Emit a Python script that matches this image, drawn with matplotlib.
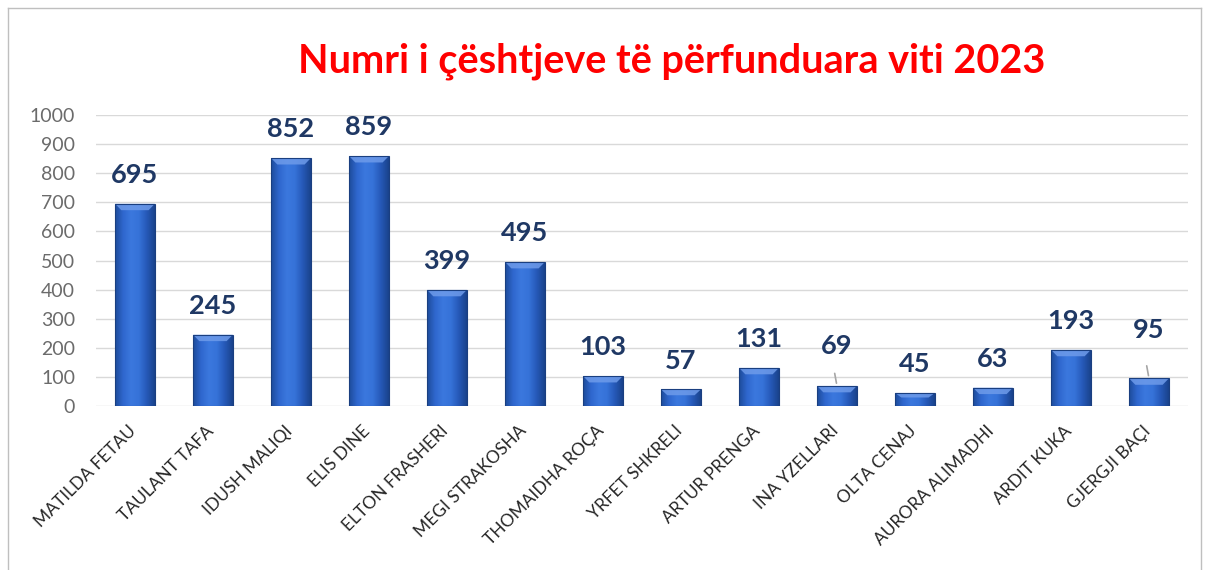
import matplotlib
matplotlib.use("Agg")
import matplotlib.pyplot as plt
import matplotlib.transforms as mtrans
import numpy as np
from matplotlib.colors import LinearSegmentedColormap
from matplotlib.patches import Polygon
from matplotlib.lines import Line2D

# -- Data -------------------------------------------------------------------
names = ["MATILDA FETAU", "TAULANT TAFA", "IDUSH MALIQI", "ELIS DINE",
         "ELTON FRASHERI", "MEGI STRAKOSHA", "THOMAIDHA ROÇA", "YRFET SHKRELI",
         "ARTUR PRENGA", "INA YZELLARI", "OLTA CENAJ", "AURORA ALIMADHI",
         "ARDIT KUKA", "GJERGJI BAÇI"]
cases = [695, 245, 852, 859, 399, 495, 103, 57, 131, 69, 45, 63, 193, 95]
yticks = [0, 100, 200, 300, 400, 500, 600, 700, 800, 900, 1000]
title = "Numri i çështjeve të përfunduara viti 2023"

# -- Colors -----------------------------------------------------------------
C_TITLE = "#FF0000"
C_LABEL = "#1F3864"
C_TICK  = "#6B6B6B"
C_GRID  = "#D9D9D9"
C_CAP   = "#6E9BEA"

plt.rcParams["font.family"] = ["Lato", "DejaVu Sans"]

fig = plt.figure(figsize=(12.1, 5.7), dpi=100)
fig.patch.set_facecolor("white")
ax = fig.add_axes([0.0793, 0.2877, 0.9025, 0.5105])
ax.set_facecolor("white")

x = np.arange(len(names))
bars = ax.bar(x, cases, width=0.51, color="none", edgecolor="none", zorder=3)

# horizontal gradient fill, clipped to each bar
grad = LinearSegmentedColormap.from_list(
    "barblue", ["#1E4C9C", "#2F67CE", "#3B78DE", "#3672D8", "#2659B8", "#1A438C"])
gimg = np.linspace(0, 1, 64).reshape(1, -1)
for b in bars:
    x0, w, h = b.get_x(), b.get_width(), b.get_height()
    im = ax.imshow(gimg, cmap=grad, aspect="auto", extent=[x0, x0 + w, 0, h],
                   zorder=3, interpolation="bilinear")
    im.set_clip_path(b)
    # bevel on top
    cap = min(22, h * 0.35)
    ax.add_patch(Polygon([[x0, h], [x0 + w, h], [x0 + w - 0.08, h - cap],
                          [x0 + 0.08, h - cap]], closed=True,
                         facecolor=C_CAP, edgecolor="none", alpha=0.85, zorder=4))
    ax.add_patch(Polygon([[x0, h], [x0, 0], [x0 + w, 0], [x0 + w, h]], closed=True,
                         facecolor="none", edgecolor="#1A3F80", lw=0.8, zorder=4))

ax.set_xlim(-0.5, len(names) - 0.5)
ax.set_ylim(0, 1000)
ax.set_yticks(yticks)
ax.yaxis.grid(True, color=C_GRID, lw=1.0, zorder=0)
ax.set_axisbelow(True)
for s in ax.spines.values():
    s.set_visible(False)
ax.tick_params(axis="both", length=0, colors=C_TICK)
ax.tick_params(axis="y", labelsize=14, pad=15)
ax.set_xticks(x)
ax.set_xticklabels(names, rotation=45, ha="right", rotation_mode="anchor",
                   fontsize=12.5, color="#262626")
ax.tick_params(axis="x", pad=12)
shift = mtrans.ScaledTranslation(-0.07, 0, fig.dpi_scale_trans)
for lbl in ax.get_xticklabels():
    lbl.set_transform(lbl.get_transform() + shift)

# data labels (two are pushed up with a leader line)
lifted = {9: 8, 13: 14}
for i, (b, v) in enumerate(zip(bars, cases)):
    cx = b.get_x() + b.get_width() / 2
    up = lifted.get(i, 0)
    ax.annotate(str(v), (cx, v), xytext=(0, 12 + up), textcoords="offset points",
                ha="center", va="bottom", fontsize=19.5, fontweight="bold",
                color=C_LABEL, zorder=5)
    if up:
        ax.annotate("", (cx, v), xytext=(-2, 11), textcoords="offset points",
                    arrowprops=dict(arrowstyle="-", color="#A6A6A6", lw=1.2),
                    zorder=5)

fig.text(0.555, 0.893, title, ha="center", va="center", fontsize=28.5,
         fontweight="bold", color=C_TITLE)

# chart border
for xs, ys in [((0.0066, 0.0066), (0, 0.986)), ((0.0066, 0.9925), (0.986, 0.986)),
               ((0.9925, 0.9925), (0, 0.986))]:
    fig.add_artist(Line2D(xs, ys, color="#BFBFBF", lw=1.0, transform=fig.transFigure))

fig.savefig("out.png", dpi=100, facecolor="white")
